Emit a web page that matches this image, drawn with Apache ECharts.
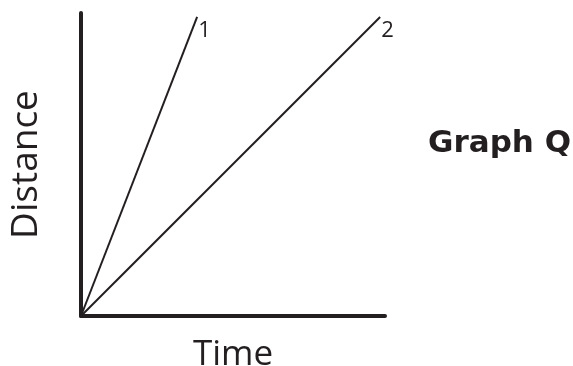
<!DOCTYPE html>
<html>
<head>
<meta charset="utf-8">
<script src="https://cdn.jsdelivr.net/npm/echarts@6/dist/echarts.min.js"></script>
<style>
  html, body { margin: 0; padding: 0; background: #fff; }
  #chart { width: 573px; height: 366px; }
</style>
</head>
<body>
<div id="chart"></div>
<script>
// values (axis runs 0..10 both ways, no ticks shown)
const lineNames = ['1', '2']
const line1 = [[0, 0], [3.82, 9.87]]
const line2 = [[0, 0], [9.84, 9.87]]
const xName = 'Time'
const yName = 'Distance'
const graphTitle = 'Graph Q'

const ink = '#231f20'

const makeSeries = (name, points) => {
  return {
    type: 'line',
    name: name,
    showSymbol: false,
    symbol: 'none',
    animation: false,
    lineStyle: { color: ink, width: 2 },
    data: points,
    endLabel: {
      show: true,
      formatter: name,
      color: ink,
      fontFamily: 'Open Sans',
      fontSize: 22,
      offset: [-7, 14],
    },
  }
}

const chart = echarts.init(document.getElementById('chart'))
chart.setOption({
  backgroundColor: '#fff',
  animation: false,
  title: {
    text: graphTitle,
    left: 423,
    top: 123,
    textStyle: {
      fontFamily: 'DejaVu Sans',
      fontWeight: 'bold',
      fontSize: 31,
      color: ink,
    },
  },
  grid: { left: 81, right: 188, top: 13, bottom: 50, outerBoundsMode: 'none' },
  xAxis: {
    type: 'value',
    min: 0,
    max: 10,
    name: xName,
    nameLocation: 'middle',
    nameGap: 22,
    nameTextStyle: { fontFamily: 'Open Sans', fontSize: 35, color: ink },
    axisLine: { show: true, lineStyle: { color: ink, width: 4 } },
    axisTick: { show: false },
    axisLabel: { show: false },
    splitLine: { show: false },
  },
  yAxis: {
    type: 'value',
    min: 0,
    max: 10,
    name: yName,
    nameLocation: 'middle',
    nameRotate: 90,
    nameGap: 36,
    nameTextStyle: { fontFamily: 'Open Sans', fontSize: 37, color: ink },
    axisLine: { show: true, lineStyle: { color: ink, width: 4 } },
    axisTick: { show: false },
    axisLabel: { show: false },
    splitLine: { show: false },
  },
  series: [makeSeries(lineNames[0], line1), makeSeries(lineNames[1], line2)],
})
</script>
</body>
</html>
